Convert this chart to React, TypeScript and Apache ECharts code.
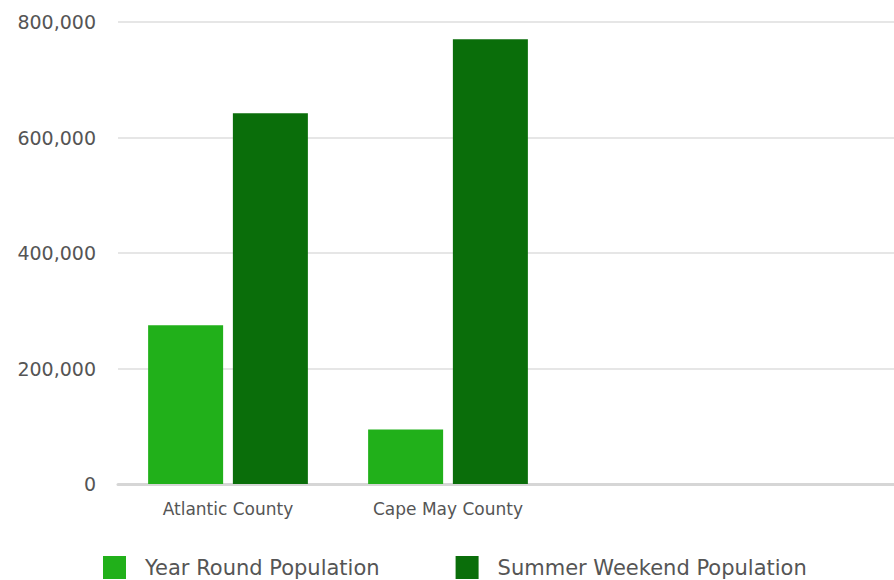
import React, { useEffect, useRef } from "react";
import * as echarts from "echarts";

const categories = ["Atlantic County", "Cape May County", "", ""];
const yearRound = [275000, 94500, null, null];
const summerWeekend = [642000, 770000, null, null];
const seriesNames = ["Year Round Population", "Summer Weekend Population"];

export default function App() {
  const ref = useRef<HTMLDivElement>(null);
  useEffect(() => {
    const chart = echarts.init(ref.current!, null, { renderer: "svg" });
    const font = "DejaVu Sans";
    chart.setOption({
      animation: false,
      grid: { left: 118, width: 880, top: 22, height: 462, containLabel: false, outerBoundsMode: "none" },
      legend: {
        left: 98,
        top: 551,
        icon: "rect",
        itemWidth: 23,
        itemHeight: 23,
        itemGap: 76,
        textStyle: { fontFamily: font, fontSize: 21, color: "#555", padding: [0, 0, 0, 14], lineHeight: 23 },
        data: seriesNames,
      },
      xAxis: {
        type: "category",
        data: categories,
        axisLine: { lineStyle: { color: "#d6d6d6", width: 3 } },
        axisTick: { show: false },
        axisLabel: { fontFamily: font, fontSize: 17, color: "#555", margin: 16, interval: 0 },
      },
      yAxis: {
        type: "value",
        min: 0,
        max: 800000,
        interval: 200000,
        axisLine: { show: false },
        axisTick: { show: false },
        splitLine: { lineStyle: { color: "#e6e6e6", width: 2 } },
        axisLabel: {
          fontFamily: font,
          fontSize: 19,
          color: "#555",
          margin: 22,
          formatter: (v: number) => v.toLocaleString("en-US"),
        },
      },
      series: [
        {
          name: seriesNames[0],
          type: "bar",
          data: yearRound,
          barWidth: 75,
          barGap: "13%",
          itemStyle: { color: "#21b01a" },
        },
        {
          name: seriesNames[1],
          type: "bar",
          data: summerWeekend,
          barWidth: 75,
          itemStyle: { color: "#0a6e0a" },
        },
      ],
    });
    return () => chart.dispose();
  }, []);
  return (
    <div
      ref={ref}
      style={{ position: "fixed", left: 0, top: 0, width: 894, height: 580, background: "#fff" }}
    />
  );
}
